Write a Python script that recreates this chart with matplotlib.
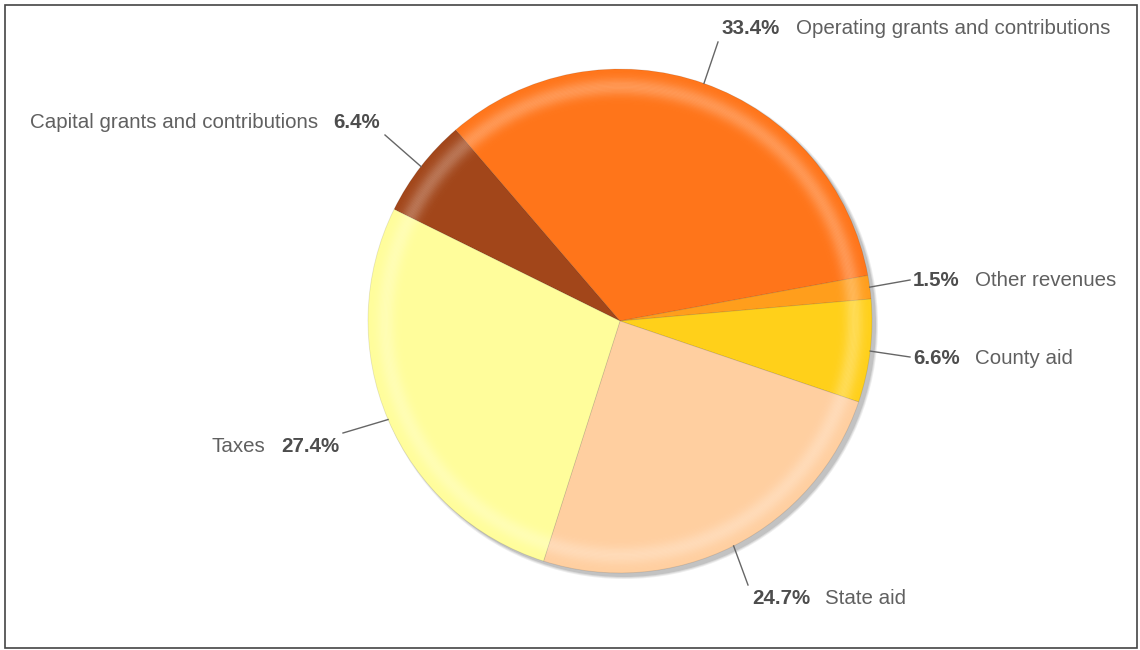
import numpy as np
import matplotlib.pyplot as plt
from matplotlib.patches import Wedge, Circle, Rectangle

plt.rcParams['font.family'] = ['Liberation Sans', 'DejaVu Sans']

# data (clockwise from the capital grants slice)
labels = ['Capital grants and contributions', 'Operating grants and contributions',
          'Other revenues', 'County aid', 'State aid', 'Taxes']
shares = [6.4, 33.4, 1.5, 6.6, 24.7, 27.4]
colors = ['#A2461A', '#FF751A', '#FF9E1C', '#FFD01A', '#FFCFA0', '#FFFD9B']

# label layout: (x, y) in pixels, side of pie
label_pos = [(380, 123, 'left'), (722, 28, 'right'), (913, 281, 'right'),
             (913, 358, 'right'), (752, 598, 'right'), (339, 446, 'left')]
line_end = [(385, 135), (718, 42), (910, 280), (910, 357), (748, 585), (343, 433)]

W, H = 1140, 650
fig = plt.figure(figsize=(W / 100, H / 100), dpi=100)
ax = fig.add_axes([0, 0, 1, 1])

cx, cy, R = 620, H - 321, 252
start = 153.7

# shadow
for k, a in enumerate([0.10, 0.12, 0.18]):
    ax.add_patch(Circle((cx + 4, cy - 4), R + 2 - k, fc='#555555', ec='none', alpha=a, zorder=1))

wedges, _ = ax.pie(shares, colors=colors, startangle=start, counterclock=False,
                   radius=R, center=(cx, cy), frame=True,
                   wedgeprops=dict(linewidth=0.6, edgecolor=(0, 0, 0, 0.10), zorder=2))
ax.set_xlim(0, W)
ax.set_ylim(0, H)
ax.set_aspect('equal')
ax.axis('off')

# outer frame
ax.add_patch(Rectangle((5, 2), W - 8, H - 7, fill=False, ec='#444444', lw=1.2))

# rim highlight, smooth band around 0.93 R
edges = np.linspace(0.82, 0.995, 36)
for w in wedges:
    for r0, r1 in zip(edges[:-1], edges[1:]):
        rm = (r0 + r1) / 2
        a = 0.26 * np.exp(-((rm - 0.93) / 0.035) ** 2)
        ax.add_patch(Wedge((cx, cy), R * r1, w.theta1, w.theta2, width=R * (r1 - r0),
                           fc='white', ec='none', alpha=a, zorder=3))

# labels with leader lines
for w, lab, sh, (lx, ly, side), (ex, ey) in zip(wedges, labels, shares, label_pos, line_end):
    mid = np.deg2rad((w.theta1 + w.theta2) / 2)
    px, py = cx + R * np.cos(mid), cy + R * np.sin(mid)
    ax.plot([px, ex], [py, H - ey], color='#666666', lw=1.0, zorder=4)
    if side == 'right':
        t = ax.text(lx, H - ly, f'{sh}%', ha='left', va='center', fontsize=14.8,
                    fontweight='bold', color='#4d4d4d')
        ax.annotate(lab, xy=(1, 0.5), xycoords=t, xytext=(11, 0), textcoords='offset points',
                    ha='left', va='center', fontsize=14.8, color='#606060')
    else:
        t = ax.text(lx, H - ly, f'{sh}%', ha='right', va='center', fontsize=14.8,
                    fontweight='bold', color='#4d4d4d')
        ax.annotate(lab, xy=(0, 0.5), xycoords=t, xytext=(-11, 0), textcoords='offset points',
                    ha='right', va='center', fontsize=14.8, color='#606060')

fig.savefig('out.png', dpi=100)
